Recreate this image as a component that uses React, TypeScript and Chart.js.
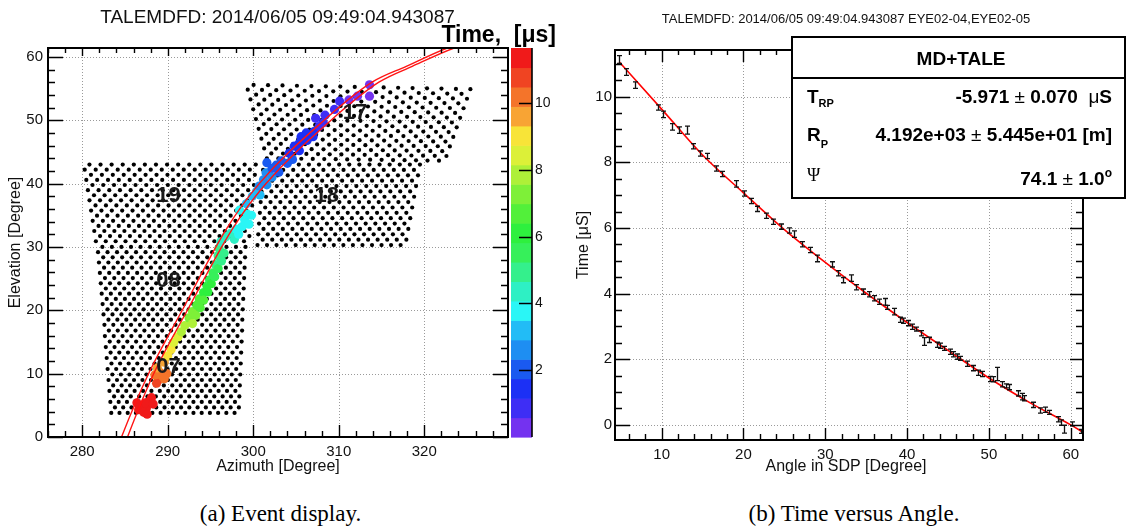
import React, { useEffect, useRef } from 'react';
import { Chart, registerables } from 'chart.js';

Chart.register(...registerables);

const SANS = "'Liberation Sans', Arial, Helvetica, sans-serif";
const SERIF = "'Liberation Serif', 'Times New Roman', serif";

// ================= Panel (a): event display =================
const titleA = 'TALEMDFD: 2014/06/05 09:49:04.943087';
const azRange = [276, 329.8];
const elRange = [0, 61.4];
const azTicks = [280, 290, 300, 310, 320];
const elTicks = [0, 10, 20, 30, 40, 50, 60];
const timeBarRange = [0, 11.65];
const timeBarTicks = [2, 4, 6, 8, 10];
const timeBarColors = [
  '#7432f0', '#3e2ef5', '#1c30f5', '#1a5af0', '#1e8ef2',
  '#22bcf6', '#2af6f6', '#2ef0c4', '#34f08c', '#36f05a',
  '#2ef03e', '#52f03a', '#7ef038', '#aef038', '#dcf038',
  '#f8e438', '#f8a434', '#f4742a', '#f04422', '#f01a1a',
];

// mirror cameras (16 x 16 PMTs each), corners in [azimuth, elevation]
const mirrorNames = ['07', '08', '19', '18', '17'];
const mirrorBottomLeft = [[283.4, 3.8], [282.6, 17.7], [281.6, 30.9], [300.5, 30.3], [301.6, 44.0]];
const mirrorBottomRight = [[298.3, 3.8], [298.7, 17.7], [299.5, 30.9], [317.8, 30.3], [322.4, 43.6]];
const mirrorTopRight = [[298.7, 16.8], [299.1, 30.0], [300.3, 43.0], [319.5, 43.0], [325.4, 54.9]];
const mirrorTopLeft = [[282.6, 16.8], [281.8, 30.0], [280.2, 43.0], [301.2, 43.0], [299.2, 55.6]];
const pmtRows = 16;
const pmtCols = 16;
const mirrorLabelAz = [290.1, 290.1, 290.1, 308.6, 311.9];
const mirrorLabelEl = [11.0, 24.6, 38.1, 38.1, 51.1];

// triggered tubes
const trackAz = [
  286.6, 287.0, 287.5, 287.8, 288.1, 287.2, 287.4, 286.4, 288.3, 287.6,
  288.9, 289.3, 289.6, 289.1, 288.7, 289.9, 288.5,
  288.8, 289.6,
  290.0, 290.4,
  290.7, 291.2,
  291.6, 292.0,
  292.5, 292.9,
  293.4, 293.7,
  294.2, 294.6,
  294.9, 295.3,
  295.6, 295.9, 296.0,
  296.2, 296.8, 297.4,
  298.0, 298.7, 299.0, 299.3, 298.4,
  299.2, 299.9, 300.4,
  300.7, 301.2, 301.5,
  302.2, 302.7, 301.6, 303.3, 304.0,
  304.2, 304.8, 305.4, 305.6, 306.2, 307.1,
  307.7, 307.3, 308.4, 309.5, 310.1,
  311.2, 312.2, 313.6, 313.6,
  292.9, 293.3, 293.8, 294.2, 294.7, 295.1, 295.5, 295.9, 296.3, 296.6,
  297.8, 298.3, 299.5, 299.8,
  300.8, 301.6, 302.2, 303.0, 304.6, 305.4, 306.3, 307.0, 308.2,
];
const trackEl = [
  4.3, 5.0, 4.5, 5.6, 6.2, 3.9, 5.4, 5.4, 5.2, 3.6,
  9.0, 9.6, 9.2, 10.2, 8.5, 10.0, 9.8,
  10.9, 11.8,
  12.8, 13.8,
  14.9, 15.8,
  16.6, 17.6,
  18.8, 19.8,
  20.8, 21.8,
  22.8, 23.8,
  24.8, 25.9,
  27.2, 28.6, 29.8,
  30.8, 31.6, 32.2,
  32.8, 33.2, 34.3, 35.2, 35.8,
  36.8, 38.0, 38.8,
  39.6, 40.6, 41.7,
  42.4, 42.9, 43.3, 43.6, 43.2,
  44.8, 45.9, 46.4, 47.4, 48.0, 48.2,
  49.0, 50.3, 50.8, 51.7, 53.0,
  53.2, 53.8, 53.8, 55.6,
  17.9, 19.2, 20.4, 21.6, 22.9, 24.2, 25.3, 26.6, 27.8, 29.0,
  31.2, 32.0, 33.6, 35.0,
  38.2, 39.8, 41.0, 41.8, 43.8, 45.2, 46.8, 47.4, 49.6,
];
const trackTime = [
  11.4, 11.35, 11.3, 11.3, 11.25, 11.4, 11.3, 11.4, 11.2, 11.4,
  10.3, 10.2, 10.2, 10.1, 10.6, 10.0, 10.4,
  9.7, 9.5,
  9.1, 8.9,
  8.5, 8.3,
  7.9, 7.7,
  7.3, 7.1,
  6.8, 6.6,
  6.2, 6.0,
  5.6, 5.4,
  5.0, 4.8, 4.7,
  4.4, 4.2, 4.1,
  3.9, 3.8, 3.7, 3.6, 3.55,
  3.3, 3.1, 3.0,
  2.8, 2.6, 2.5,
  2.2, 2.1, 2.0, 2.0, 1.9,
  1.7, 1.6, 1.5, 1.4, 1.3, 1.25,
  1.1, 1.0, 0.9, 0.8, 0.7,
  0.5, 0.4, 0.35, 0.3,
  7.6, 7.2, 6.9, 6.6, 6.2, 5.9, 5.6, 5.3, 5.0, 4.7,
  4.2, 4.0, 3.7, 3.5,
  3.0, 2.7, 2.4, 2.3, 1.8, 1.6, 1.4, 1.3, 1.0,
];

// shower-detector plane projection (two edges)
const planeEdgeAAz = [284.2, 284.6, 287.8, 291.7, 296.8, 300.7, 308.3, 313.9, 317.9, 322.7, 326.0];
const planeEdgeAEl = [-1.5, 0, 10.1, 20, 32.7, 40, 50, 56, 58.5, 61.4, 62.8];
const planeEdgeBAz = [284.9, 285.3, 288.4, 292.3, 297.5, 301.5, 309.1, 314.7, 318.6, 323.5, 326.6];
const planeEdgeBEl = [-1.5, 0, 10.1, 20, 32.7, 40, 50, 56, 58.5, 61.4, 62.6];

// ================= Panel (b): time versus angle =================
const titleB = 'TALEMDFD: 2014/06/05 09:49:04.943087 EYE02-04,EYE02-05';
const angleRange = [4.3, 61.5];
const timeRange = [-0.46, 11.42];
const angleTicks = [10, 20, 30, 40, 50, 60];
const timeTicks = [0, 2, 4, 6, 8, 10];
const sdpAngle = [
  4.8, 5.7, 6.7, 9.6, 10.2, 11.3, 12.1, 13.1, 13.8, 14.7,
  15.6, 16.6, 17.4, 19.1, 20.1, 20.9, 21.7, 22.7, 23.6, 24.6,
  25.6, 26.2, 27.2, 28.1, 29.0, 30.8, 31.6, 32.2, 33.1, 33.8,
  34.6, 35.3, 35.9, 36.6, 37.3, 37.6, 38.4, 39.1, 39.5, 40.1,
  40.6, 41.1, 41.7, 42.1, 42.7, 43.6, 44.0, 44.5, 45.2, 45.6,
  46.1, 46.5, 47.3, 48.1, 48.7, 49.2, 50.1, 50.5, 51.0, 51.6,
  52.1, 52.5, 53.5, 54.0, 54.3, 55.4, 56.3, 56.9, 57.4, 58.4,
  58.8, 59.2, 60.2, 61.2,
];
const sdpTime = [
  11.13, 10.75, 10.35, 9.67, 9.46, 9.08, 8.98, 8.98, 8.49, 8.27,
  8.19, 7.81, 7.64, 7.34, 7.05, 6.82, 6.58, 6.37, 6.19, 6.04,
  5.92, 5.81, 5.50, 5.33, 5.07, 4.89, 4.62, 4.41, 4.47, 4.19,
  4.06, 3.98, 3.86, 3.75, 3.75, 3.58, 3.45, 3.20, 3.17, 3.10,
  2.99, 2.92, 2.79, 2.54, 2.59, 2.44, 2.41, 2.33, 2.23, 2.15,
  2.08, 2.03, 1.86, 1.73, 1.59, 1.55, 1.40, 1.39, 1.55, 1.24,
  1.19, 1.15, 0.96, 0.86, 0.81, 0.61, 0.44, 0.46, 0.38, 0.17,
  0.07, -0.13, 0.03, -0.2,
];
const sdpTimeErr = [
  0.12, 0.1, 0.1, 0.08, 0.1, 0.1, 0.1, 0.12, 0.08, 0.08,
  0.08, 0.08, 0.08, 0.1, 0.08, 0.08, 0.08, 0.08, 0.08, 0.08,
  0.08, 0.1, 0.08, 0.08, 0.1, 0.08, 0.08, 0.08, 0.1, 0.08,
  0.08, 0.08, 0.08, 0.08, 0.1, 0.06, 0.1, 0.08, 0.08, 0.08,
  0.08, 0.06, 0.08, 0.12, 0.08, 0.08, 0.08, 0.06, 0.08, 0.08,
  0.08, 0.06, 0.08, 0.08, 0.08, 0.08, 0.08, 0.08, 0.2, 0.08,
  0.06, 0.08, 0.08, 0.1, 0.08, 0.08, 0.08, 0.08, 0.06, 0.08,
  0.08, 0.12, 0.06, 0.06,
];
const fitAngle = [4.8, 10, 15, 20, 25, 30, 35, 40, 45, 50, 55, 60, 61.5];
const fitTime = [11.06, 9.62, 8.22, 7.07, 5.95, 4.95, 4.01, 3.12, 2.27, 1.43, 0.68, 0.0, -0.22];

const statsTitle = 'MD+TALE';
const statsSymbol = ['T', 'R', 'Ψ'];
const statsSubscript = ['RP', 'P', ''];
const statsValue = ['-5.971', '4.192e+03', '74.1'];
const statsError = ['0.070', '5.445e+01', '1.0'];
const statsUnit = ['μS', '[m]', '°'];

// ================= helpers =================
function steps(min: number, max: number, step: number): number[] {
  const out: number[] = [];
  for (let v = Math.ceil(min / step - 1e-9) * step; v <= max + 1e-9; v += step) out.push(+v.toFixed(6));
  return out;
}

function cameraDots() {
  const pts: { x: number; y: number }[] = [];
  for (let m = 0; m < mirrorNames.length; m++) {
    const bl = mirrorBottomLeft[m], br = mirrorBottomRight[m], tr = mirrorTopRight[m], tl = mirrorTopLeft[m];
    for (let r = 0; r < pmtRows; r++) {
      const v = r / (pmtRows - 1);
      for (let c = 0; c < pmtCols; c++) {
        const u = (c + (r % 2) * 0.5) / (pmtCols - 0.5);
        const bx = bl[0] + (br[0] - bl[0]) * u, by = bl[1] + (br[1] - bl[1]) * u;
        const tx = tl[0] + (tr[0] - tl[0]) * u, ty = tl[1] + (tr[1] - tl[1]) * u;
        pts.push({ x: bx + (tx - bx) * v, y: by + (ty - by) * v });
      }
    }
  }
  return pts;
}

function drawGrid(chart: any, xv: number[], yv: number[]) {
  const { ctx, chartArea: a, scales } = chart;
  ctx.save();
  ctx.strokeStyle = '#9a9a9a';
  ctx.lineWidth = 1;
  ctx.setLineDash([1, 2]);
  ctx.beginPath();
  for (const v of xv) {
    const px = Math.round(scales.x.getPixelForValue(v)) + 0.5;
    ctx.moveTo(px, a.top); ctx.lineTo(px, a.bottom);
  }
  for (const v of yv) {
    const py = Math.round(scales.y.getPixelForValue(v)) + 0.5;
    ctx.moveTo(a.left, py); ctx.lineTo(a.right, py);
  }
  ctx.stroke();
  ctx.restore();
}

type FrameOpts = {
  xMajor: number[]; yMajor: number[]; xMinor: number; yMinor: number;
  bMaj: number; bMin: number; tMaj: number; tMin: number;
  lMaj: number; lMin: number; rMaj: number; rMin: number;
};

function drawFrame(chart: any, o: FrameOpts) {
  const { ctx, chartArea: a, scales } = chart;
  const x = scales.x, y = scales.y;
  const isMajor = (arr: number[], v: number) => arr.some((m) => Math.abs(m - v) < 1e-6);
  ctx.save();
  ctx.strokeStyle = '#000';
  ctx.lineWidth = 1.4;
  ctx.beginPath();
  for (const v of steps(x.min, x.max, o.xMinor)) {
    const mj = isMajor(o.xMajor, v);
    const px = Math.round(x.getPixelForValue(v)) + 0.5;
    ctx.moveTo(px, a.bottom); ctx.lineTo(px, a.bottom - (mj ? o.bMaj : o.bMin));
    ctx.moveTo(px, a.top); ctx.lineTo(px, a.top + (mj ? o.tMaj : o.tMin));
  }
  for (const v of steps(y.min, y.max, o.yMinor)) {
    const mj = isMajor(o.yMajor, v);
    const py = Math.round(y.getPixelForValue(v)) + 0.5;
    ctx.moveTo(a.left, py); ctx.lineTo(a.left + (mj ? o.lMaj : o.lMin), py);
    ctx.moveTo(a.right, py); ctx.lineTo(a.right - (mj ? o.rMaj : o.rMin), py);
  }
  ctx.stroke();
  ctx.lineWidth = 2;
  ctx.strokeRect(a.left, a.top, a.right - a.left, a.bottom - a.top);
  ctx.restore();
}

type Part = { text: string; font: string; dy?: number };
function drawRich(ctx: CanvasRenderingContext2D, parts: Part[], x: number, y: number, align: 'left' | 'right') {
  ctx.textAlign = 'left';
  let total = 0;
  for (const p of parts) { ctx.font = p.font; total += ctx.measureText(p.text).width; }
  let cx = align === 'right' ? x - total : x;
  for (const p of parts) {
    ctx.font = p.font;
    ctx.fillText(p.text, cx, y + (p.dy || 0));
    cx += ctx.measureText(p.text).width;
  }
}

function rotatedText(ctx: CanvasRenderingContext2D, text: string, x: number, y: number, font: string) {
  ctx.save();
  ctx.translate(x, y);
  ctx.rotate(-Math.PI / 2);
  ctx.font = font;
  ctx.textAlign = 'center';
  ctx.textBaseline = 'alphabetic';
  ctx.fillText(text, 0, 0);
  ctx.restore();
}

function linearScale(range: number[], ticks: number[], fixSize: (s: any) => void, pad: number, extra: any = {}) {
  return {
    type: 'linear',
    min: range[0],
    max: range[1],
    afterBuildTicks: (s: any) => { s.ticks = ticks.map((v) => ({ value: v })); },
    afterFit: fixSize,
    grid: { display: false, drawTicks: false },
    border: { display: false },
    ticks: { font: { family: SANS, size: 15 }, color: '#111', padding: pad, autoSkip: false, maxRotation: 0 },
    ...extra,
  };
}

// ================= Panel (a) config =================
function panelAConfig(): any {
  const bandWidth = (timeBarRange[1] - timeBarRange[0]) / timeBarColors.length;
  const trackColors = trackTime.map((t) =>
    timeBarColors[Math.max(0, Math.min(timeBarColors.length - 1, Math.floor((t - timeBarRange[0]) / bandWidth)))]
  );
  const plugin = {
    id: 'panelA',
    beforeDatasetsDraw(chart: any) { drawGrid(chart, azTicks, elTicks); },
    afterDatasetsDraw(chart: any) {
      const { ctx, scales } = chart;
      ctx.save();
      ctx.font = `bold 22px ${SANS}`;
      ctx.fillStyle = '#1a1a1a';
      ctx.textAlign = 'center';
      ctx.textBaseline = 'middle';
      mirrorNames.forEach((n, i) => {
        ctx.fillText(n, scales.x.getPixelForValue(mirrorLabelAz[i]), scales.y.getPixelForValue(mirrorLabelEl[i]));
      });
      ctx.restore();
      drawFrame(chart, {
        xMajor: azTicks, yMajor: elTicks, xMinor: 2, yMinor: 2,
        bMaj: 12, bMin: 6, tMaj: 8, tMin: 5, lMaj: 15, lMin: 7, rMaj: 15, rMin: 7,
      });
    },
    afterDraw(chart: any) {
      const { ctx, chartArea: a } = chart;
      const cb = chart.scales.cb;
      ctx.save();
      ctx.fillStyle = '#111';
      ctx.textBaseline = 'alphabetic';
      ctx.font = `19px ${SANS}`;
      ctx.textAlign = 'center';
      ctx.fillText(titleA, 277.5, 22.7);
      ctx.font = `16px ${SANS}`;
      ctx.fillText('Azimuth [Degree]', (a.left + a.right) / 2, 471);
      rotatedText(ctx, 'Elevation [Degree]', 20, (a.top + a.bottom) / 2, `16px ${SANS}`);

      // colour bar
      const x0 = a.right + 3, x1 = a.right + 24;
      timeBarColors.forEach((c, i) => {
        const yb = cb.getPixelForValue(timeBarRange[0] + i * bandWidth);
        const yt = cb.getPixelForValue(timeBarRange[0] + (i + 1) * bandWidth);
        ctx.fillStyle = c;
        ctx.fillRect(x0, yt, x1 - x0, yb - yt + 0.6);
      });
      ctx.strokeStyle = '#000';
      ctx.lineWidth = 1.6;
      ctx.beginPath();
      ctx.moveTo(x1, a.top); ctx.lineTo(x1, a.bottom);
      for (const t of timeBarTicks) {
        const py = Math.round(cb.getPixelForValue(t)) + 0.5;
        ctx.moveTo(x1 - 13, py); ctx.lineTo(x1, py);
      }
      ctx.stroke();
      ctx.fillStyle = '#111';
      ctx.font = `14px ${SANS}`;
      ctx.textAlign = 'left';
      ctx.textBaseline = 'middle';
      for (const t of timeBarTicks) ctx.fillText(String(t), x1 + 3, cb.getPixelForValue(t));
      ctx.textBaseline = 'alphabetic';
      ctx.fillStyle = '#000';
      ctx.font = `bold 23px ${SANS}`;
      ctx.textAlign = 'right';
      ctx.fillText('Time,  [μs]', 556, 42);
      ctx.restore();
    },
  };
  return {
    type: 'scatter',
    data: {
      datasets: [
        {
          label: 'edge A', data: planeEdgeAAz.map((x, i) => ({ x, y: planeEdgeAEl[i] })),
          showLine: true, borderColor: '#ff1414', borderWidth: 1.4, pointRadius: 0, fill: false,
          cubicInterpolationMode: 'monotone', order: 0,
        },
        {
          label: 'edge B', data: planeEdgeBAz.map((x, i) => ({ x, y: planeEdgeBEl[i] })),
          showLine: true, borderColor: '#ff1414', borderWidth: 1.4, pointRadius: 0, fill: false,
          cubicInterpolationMode: 'monotone', order: 0,
        },
        {
          label: 'tubes', data: trackAz.map((x, i) => ({ x, y: trackEl[i] })),
          pointRadius: 4.6, backgroundColor: trackColors, borderWidth: 0, order: 1,
        },
        {
          label: 'cameras', data: cameraDots(),
          pointRadius: 2.1, backgroundColor: '#000', borderWidth: 0, order: 2,
        },
      ],
    },
    options: {
      responsive: false,
      animation: false,
      devicePixelRatio: 1,
      events: [],
      layout: { padding: { left: 8, top: 48, right: 55, bottom: 13 } },
      plugins: { legend: { display: false }, tooltip: { enabled: false }, title: { display: false } },
      scales: {
        x: linearScale(azRange, azTicks, (s: any) => { s.height = 40; }, 6),
        y: linearScale(elRange, elTicks, (s: any) => { s.width = 40; }, 5),
        cb: { type: 'linear', axis: 'y', position: 'right', display: false, min: timeBarRange[0], max: timeBarRange[1] },
      },
    },
    plugins: [plugin],
  };
}

// ================= Panel (b) config =================
function panelBConfig(): any {
  const plugin = {
    id: 'panelB',
    beforeDatasetsDraw(chart: any) { drawGrid(chart, angleTicks, timeTicks); },
    afterDatasetsDraw(chart: any) {
      const { ctx, scales } = chart;
      ctx.save();
      ctx.strokeStyle = '#111';
      ctx.lineWidth = 1.3;
      ctx.beginPath();
      sdpAngle.forEach((ang, i) => {
        const px = Math.round(scales.x.getPixelForValue(ang)) + 0.5;
        const yt = scales.y.getPixelForValue(sdpTime[i] + sdpTimeErr[i]);
        const yb = scales.y.getPixelForValue(sdpTime[i] - sdpTimeErr[i]);
        ctx.moveTo(px, yt); ctx.lineTo(px, yb);
        ctx.moveTo(px - 2.5, yt); ctx.lineTo(px + 2.5, yt);
        ctx.moveTo(px - 2.5, yb); ctx.lineTo(px + 2.5, yb);
      });
      ctx.stroke();
      ctx.restore();
      drawFrame(chart, {
        xMajor: angleTicks, yMajor: timeTicks, xMinor: 2, yMinor: 0.5,
        bMaj: 12, bMin: 6, tMaj: 12, tMin: 5, lMaj: 15, lMin: 7, rMaj: 13, rMin: 7,
      });
    },
    afterDraw(chart: any) {
      const { ctx } = chart;
      ctx.save();
      ctx.fillStyle = '#111';
      ctx.textBaseline = 'alphabetic';
      ctx.textAlign = 'center';
      ctx.font = `13px ${SANS}`;
      ctx.fillText(titleB, 283, 22.5);
      ctx.font = `16px ${SANS}`;
      ctx.fillText('Angle in SDP [Degree]', 283, 471);
      rotatedText(ctx, 'Time [μS]', 25, 245, `16px ${SANS}`);

      // statistics box
      const bx0 = 229, bx1 = 562, by0 = 37, by1 = 198, byDiv = 78;
      ctx.fillStyle = '#fff';
      ctx.fillRect(bx0, by0, bx1 - bx0, by1 - by0);
      ctx.strokeStyle = '#000';
      ctx.lineWidth = 2;
      ctx.strokeRect(bx0, by0, bx1 - bx0, by1 - by0);
      ctx.beginPath();
      ctx.moveTo(bx0, byDiv); ctx.lineTo(bx1, byDiv);
      ctx.stroke();
      ctx.fillStyle = '#000';
      ctx.font = `bold 19px ${SANS}`;
      ctx.textAlign = 'center';
      ctx.fillText(statsTitle, 398, 65);

      const B = `bold 19px ${SANS}`;
      const R = `19px ${SANS}`;
      const rowBase = [103, 141, 185];
      const subDy = [4, 7, 0];
      for (let i = 0; i < 3; i++) {
        if (statsSymbol[i] === 'Ψ') {
          drawRich(ctx, [{ text: statsSymbol[i], font: `18px ${SERIF}` }], 244, rowBase[i] - 4, 'left');
        } else {
          drawRich(ctx, [
            { text: statsSymbol[i], font: B },
            { text: statsSubscript[i], font: `bold 11px ${SANS}`, dy: subDy[i] },
          ], 244, rowBase[i], 'left');
        }
        const parts: Part[] = [
          { text: statsValue[i] + ' ', font: B },
          { text: '±', font: R },
          { text: ' ' + statsError[i], font: B },
        ];
        const u = statsUnit[i];
        if (u === 'μS') {
          parts.push({ text: '  ', font: B }, { text: 'μ', font: R }, { text: 'S', font: B });
        } else if (u === '°') {
          parts.push({ text: 'o', font: `bold 12px ${SANS}`, dy: -8 });
        } else {
          parts.push({ text: ' ' + u, font: B });
        }
        drawRich(ctx, parts, 549, rowBase[i], 'right');
      }
      ctx.restore();
    },
  };
  return {
    type: 'scatter',
    data: {
      datasets: [
        {
          label: 'fit', data: fitAngle.map((x, i) => ({ x, y: fitTime[i] })),
          showLine: true, borderColor: '#ff0000', borderWidth: 1.6, pointRadius: 0, fill: false,
          cubicInterpolationMode: 'monotone', order: 1,
        },
        {
          label: 'data', data: sdpAngle.map((x, i) => ({ x, y: sdpTime[i] })),
          pointRadius: 0, backgroundColor: '#000', borderWidth: 0, order: 0,
        },
      ],
    },
    options: {
      responsive: false,
      animation: false,
      devicePixelRatio: 1,
      events: [],
      layout: { padding: { left: 12, top: 50, right: 43, bottom: 10 } },
      plugins: { legend: { display: false }, tooltip: { enabled: false }, title: { display: false } },
      scales: {
        x: linearScale(angleRange, angleTicks, (s: any) => { s.height = 40; }, 6),
        y: linearScale(timeRange, timeTicks, (s: any) => { s.width = 40; }, 3),
      },
    },
    plugins: [plugin],
  };
}

const captionStyle = (cx: number): React.CSSProperties => ({
  position: 'absolute',
  left: cx,
  top: 502,
  transform: 'translateX(-50%)',
  fontFamily: SERIF,
  fontSize: 23,
  lineHeight: '23px',
  whiteSpace: 'nowrap',
  color: '#000',
});

export default function App() {
  const leftRef = useRef<HTMLCanvasElement>(null);
  const rightRef = useRef<HTMLCanvasElement>(null);
  useEffect(() => {
    const c1 = new Chart(leftRef.current as HTMLCanvasElement, panelAConfig());
    const c2 = new Chart(rightRef.current as HTMLCanvasElement, panelBConfig());
    return () => { c1.destroy(); c2.destroy(); };
  }, []);
  return (
    <div style={{ position: 'fixed', left: 0, top: 0, width: 1126, height: 530, background: '#fff', overflow: 'hidden' }}>
      <canvas ref={leftRef} width={563} height={490} style={{ position: 'absolute', left: 0, top: 0 }} />
      <canvas ref={rightRef} width={563} height={490} style={{ position: 'absolute', left: 563, top: 0 }} />
      <div style={captionStyle(280.5)}>(a) Event display.</div>
      <div style={captionStyle(854)}>(b) Time versus Angle.</div>
    </div>
  );
}
